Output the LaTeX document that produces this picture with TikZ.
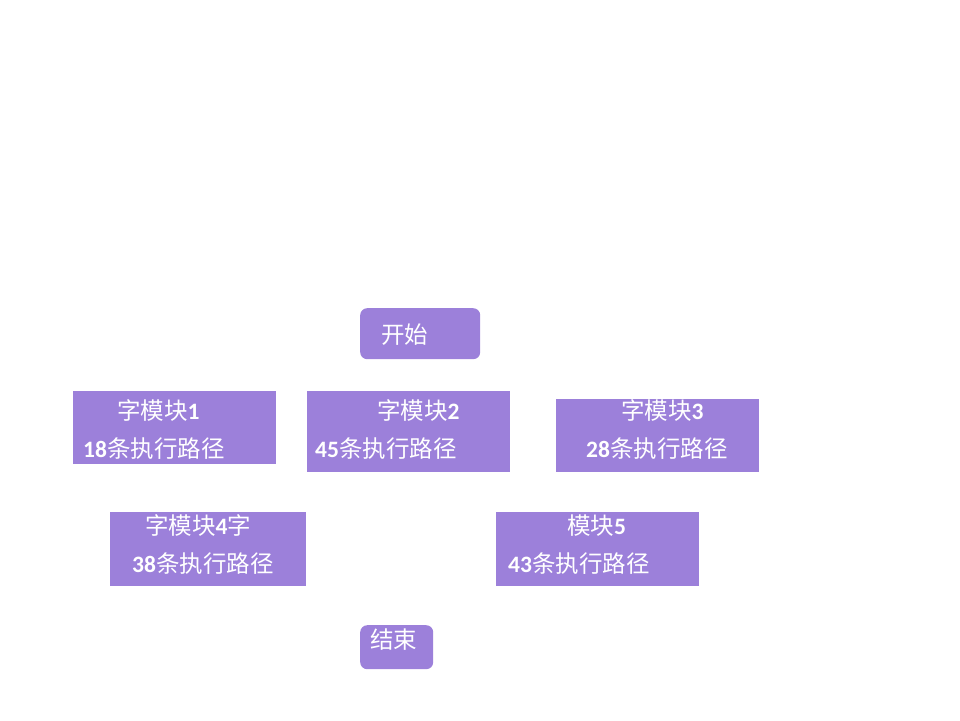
\documentclass[tikz,border=0pt]{standalone}
\usepackage{fontspec}
\newfontfamily\cjk{Noto Sans CJK SC}
\newfontfamily\numfont{Carlito}
\usepackage{tikz}
\usetikzlibrary{positioning}
\definecolor{modfill}{HTML}{9C80DA}
\newcommand{\nb}[1]{{\numfont\bfseries #1}}

\begin{document}
\begin{tikzpicture}[
    x=1pt, y=-1pt,
    mod/.style={fill=modfill, draw=none, anchor=north west, inner sep=0pt},
    term/.style={mod, rounded corners=7pt},
    lbl/.style={anchor=west, inner sep=0pt, text=white, font=\cjk\fontsize{23.5pt}{28pt}\selectfont}
]
\useasboundingbox (0,0) rectangle (960,720);

% start / end
\node[term, minimum width=120pt, minimum height=51pt] (start) at (360,308) {};
\node[lbl] (startl) at (381,335) {开始};
\node[term, minimum width=73pt, minimum height=44pt] (stop) at (360,625) {};
\node[lbl] (stopl) at (370,640) {结束};

% modules
\node[mod, minimum width=203pt, minimum height=73pt] (m1) at (73,391) {};
\node[lbl] (m1a) at (117,411) {字模块\nb{1}};
\node[lbl] (m1b) at (83,449) {\nb{18}条执行路径};

\node[mod, minimum width=203pt, minimum height=81pt] (m2) at (307,391) {};
\node[lbl] (m2a) at (377,411) {字模块\nb{2}};
\node[lbl] (m2b) at (315,449) {\nb{45}条执行路径};

\node[mod, minimum width=203pt, minimum height=73pt] (m3) at (556,399) {};
\node[lbl] (m3a) at (621,411) {字模块\nb{3}};
\node[lbl] (m3b) at (586,449) {\nb{28}条执行路径};

\node[mod, minimum width=196pt, minimum height=74pt] (m4) at (110,512) {};
\node[lbl] (m4a) at (145,526) {字模块\nb{4}字};
\node[lbl] (m4b) at (132,564) {\nb{38}条执行路径};

\node[mod, minimum width=203pt, minimum height=74pt] (m5) at (496,512) {};
\node[lbl] (m5a) at (567,526) {模块\nb{5}};
\node[lbl] (m5b) at (508,564) {\nb{43}条执行路径};

\end{tikzpicture}
\end{document}
